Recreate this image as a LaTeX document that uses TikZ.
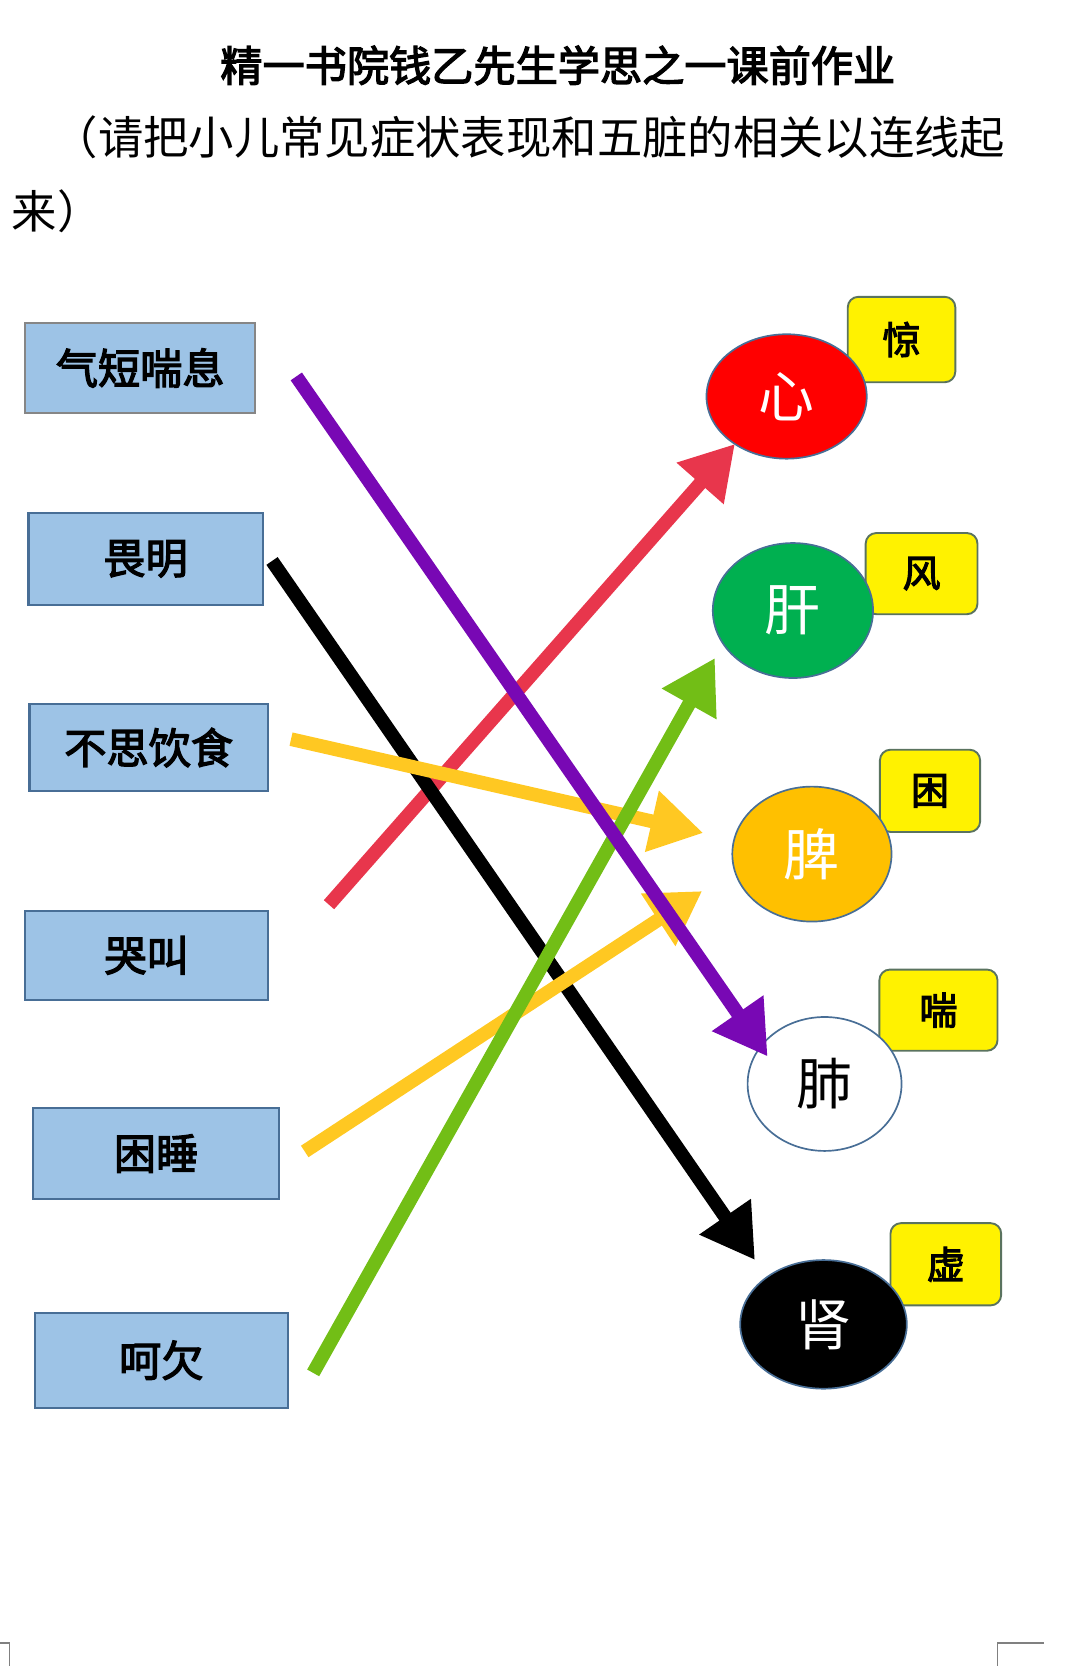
\documentclass[tikz,border=0pt]{standalone}
\usepackage{fontspec}
\newfontfamily\cjk{Noto Sans CJK SC}
\newfontfamily\cjkb[FakeBold=3]{Noto Sans CJK SC}
\usetikzlibrary{shapes.geometric,arrows.meta}
\definecolor{boxblue}{RGB}{157,195,230}
\definecolor{edgeblue}{RGB}{72,110,150}
\definecolor{tagedge}{RGB}{90,115,95}
\definecolor{xinred}{RGB}{255,0,0}
\definecolor{gangreen}{RGB}{0,176,80}
\definecolor{piorange}{RGB}{255,192,0}
\definecolor{arrred}{RGB}{232,54,76}
\definecolor{arryellow}{RGB}{255,200,34}
\definecolor{arrgreen}{RGB}{114,190,22}
\definecolor{arrpurple}{RGB}{120,8,180}

\begin{document}
\begin{tikzpicture}[x=1pt,y=-1pt,
  symptom/.style={draw=edgeblue,line width=2pt,fill=boxblue,inner sep=0pt,font=\cjkb\fontsize{40pt}{40pt}\selectfont},
  organ/.style={ellipse,draw=edgeblue,line width=1.6pt,inner sep=0pt,font=\cjk\fontsize{53pt}{53pt}\selectfont},
  sign/.style={draw=tagedge,line width=1.8pt,fill=yellow,rounded corners=10pt,inner sep=0pt,font=\cjkb\fontsize{36pt}{36pt}\selectfont},
  link/.style={line width=13pt,-{Triangle[length=50pt,width=56pt]}}]
\useasboundingbox (0,0) rectangle (1024,1580);

\node [font=\cjkb\fontsize{40pt}{40pt}\selectfont] (title) at (529,62) {精一书院钱乙先生学思之一课前作业};
\node [anchor=west,inner sep=0pt,font=\cjk\fontsize{43pt}{43pt}\selectfont] (note1) at (50,130) {（请把小儿常见症状表现和五脏的相关以连线起};
\node [anchor=west,inner sep=0pt,font=\cjk\fontsize{43pt}{43pt}\selectfont] (note2) at (11,200) {来）};

\node [symptom,draw=gray!95,minimum width=218pt,minimum height=86pt] (qd) at (133,349) {气短喘息};
\node [symptom,minimum width=222pt,minimum height=87pt] (wm) at (138,530) {畏明};
\node [symptom,minimum width=226pt,minimum height=82pt] (bs) at (141,709) {不思饮食};
\node [symptom,minimum width=230pt,minimum height=84pt] (kj) at (139,906) {哭叫};
\node [symptom,minimum width=233pt,minimum height=87pt] (ks) at (148,1094) {困睡};
\node [symptom,minimum width=240pt,minimum height=90pt] (hq) at (153,1290) {呵欠};

\node [sign,minimum width=102pt,minimum height=81pt] (jing) at (855,322) {惊};
\node [sign,minimum width=106pt,minimum height=77pt] (feng) at (874,544) {风};
\node [sign,minimum width=95pt,minimum height=78pt] (kun) at (882,750) {困};
\node [sign,minimum width=112pt,minimum height=77pt] (chuan) at (890,958) {喘};
\node [sign,minimum width=105pt,minimum height=78pt] (xu) at (897,1199) {虚};

\node [organ,fill=xinred,text=white,minimum width=152pt,minimum height=118pt] (xin) at (746,376) {心};
\node [organ,fill=gangreen,text=white,minimum width=152pt,minimum height=128pt] (gan) at (752,579) {肝};
\node [organ,fill=piorange,text=white,minimum width=151pt,minimum height=128pt] (pi) at (770,810) {脾};
\node [organ,fill=white,minimum width=146pt,minimum height=127pt] (fei) at (782,1028) {肺};
\node [organ,fill=black,text=white,minimum width=158pt,minimum height=122pt] (shen) at (781,1256) {肾};

\coordinate (qd-s) at (281,357); \coordinate (fei-t) at (728,1002);
\coordinate (wm-s) at (258,532); \coordinate (shen-t) at (716,1195);
\coordinate (kj-s) at (312,858); \coordinate (xin-t) at (697,421);
\coordinate (bs-s) at (276,701); \coordinate (pi-t1) at (667,790);
\coordinate (ks-s) at (289,1092); \coordinate (pi-t2) at (666,845);
\coordinate (hq-s) at (297,1302); \coordinate (gan-t) at (678,624);

\draw [link,arrred] (kj-s) -- (xin-t);
\draw [link,black] (wm-s) -- (shen-t);
\draw [link,arryellow] (bs-s) -- (pi-t1);
\draw [link,arryellow] (ks-s) -- (pi-t2);
\draw [link,arrgreen] (hq-s) -- (gan-t);
\draw [link,arrpurple] (qd-s) -- (fei-t);

\draw [gray,line width=1.5pt] (0,1558) -- (9,1558) -- (9,1580);
\draw [gray,line width=1.5pt] (946,1580) -- (946,1558) -- (990,1558);
\end{tikzpicture}
\end{document}
